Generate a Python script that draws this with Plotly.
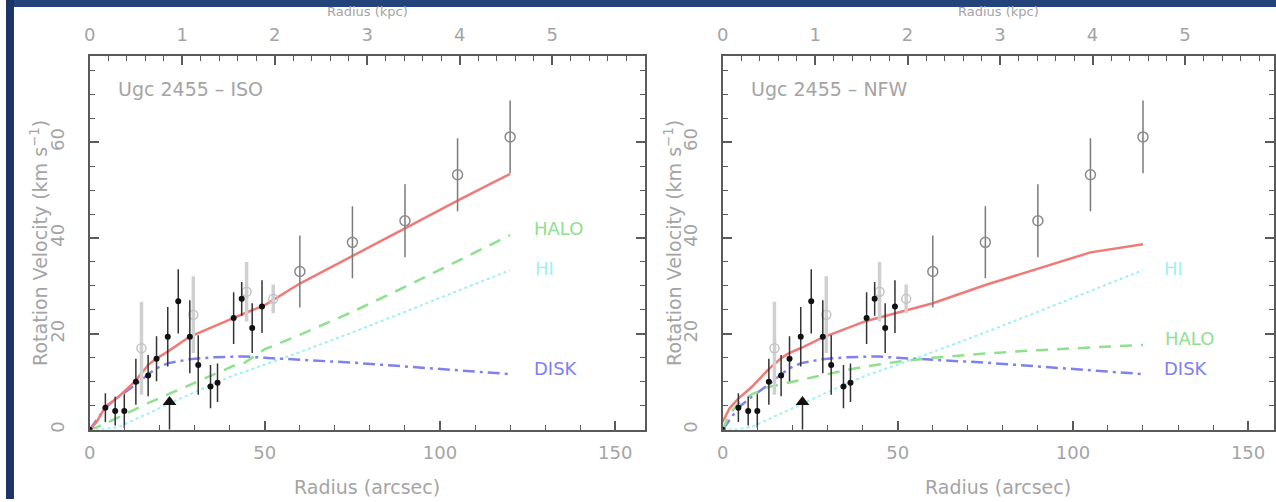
import plotly.graph_objects as go

# ---------------- data ----------------
# black (filled) points: radius [arcsec], velocity [km/s], error
r_black = [0.0, 4.5, 7.3, 9.9, 13.2, 16.7, 19.1, 22.3, 25.3, 28.6, 31.0, 34.5, 36.5, 41.1, 43.4, 46.4, 49.2]
v_black = [0.0, 4.6, 3.9, 3.9, 10.0, 11.3, 14.8, 19.4, 26.8, 19.4, 13.5, 9.0, 9.8, 23.3, 27.3, 21.2, 25.7]
e_black = [0.0, 3.0, 3.0, 3.5, 4.8, 4.3, 4.7, 6.2, 6.7, 7.6, 6.2, 4.5, 4.0, 5.4, 3.5, 5.2, 5.5]

# light grey open points (inner)
r_grey_in = [14.8, 29.6, 44.8, 52.4]
v_grey_in = [17.0, 24.0, 28.8, 27.3]
e_grey_in = [9.7, 8.0, 6.2, 3.0]

# grey open points (outer)
r_grey_out = [60.0, 75.0, 90.0, 105.0, 120.0]
v_grey_out = [33.0, 39.1, 43.6, 53.2, 61.1]
e_grey_out = [7.5, 7.5, 7.6, 7.6, 7.6]

# upper-limit triangle
r_tri = [22.8]
v_tri = [5.8]

# model curves
r_model = [0, 2, 4.5, 8.3, 13.1, 16.8, 19.0, 22.5, 28.5, 35, 41, 44.3, 50, 60, 75, 90, 105, 120]
iso_total = [0, 1.6, 4.8, 6.9, 10.2, 13.6, 14.8, 16.4, 19.4, 21.5, 23.3, 24.3, 26.0, 30.5, 36.2, 42.0, 47.8, 53.4]
iso_halo = [0, 0.5, 1.3, 2.7, 4.3, 5.6, 6.3, 7.4, 9.4, 11.5, 13.3, 14.0, 16.8, 19.8, 24.6, 29.8, 35.2, 40.6]
nfw_total = [1.6, 4.5, 6.5, 8.9, 12.6, 15.0, 16.0, 17.1, 19.2, 21.1, 22.7, 23.3, 24.4, 26.4, 30.2, 33.6, 37.0, 38.7]
nfw_halo = [0, 3.2, 5.5, 7.4, 8.9, 9.5, 9.9, 10.5, 11.5, 12.4, 13.2, 13.6, 14.2, 15.0, 15.9, 16.6, 17.2, 17.7]
disk = [0, 2.0, 4.6, 6.9, 9.4, 11.6, 12.8, 13.9, 14.7, 15.1, 15.3, 15.3, 15.0, 14.6, 14.0, 13.2, 12.4, 11.6]
hi = [0, 0, 0.1, 0.6, 2.2, 3.4, 4.1, 5.2, 7.3, 9.5, 11.3, 12.2, 13.6, 16.2, 20.3, 24.6, 29.0, 33.3]

x_ticks = [0, 50, 100, 150]
y_ticks = [0, 20, 40, 60]
kpc_ticks = [0, 1, 2, 3, 4, 5]
ARCSEC_PER_KPC = 26.4

labels_iso = [("HALO", 133.8, 42.0), ("HI", 129.8, 33.7), ("DISK", 133.0, 12.7)]
labels_nfw = [("HI", 128.8, 33.7), ("HALO", 133.3, 19.1), ("DISK", 132.4, 12.8)]

# ---------------- styling ----------------
W, H = 1276, 502
FONT = "DejaVu Sans"
TXT = "#a4a4a4"
FRAME = "#5a5a5a"
RED = "#f07a78"
GREEN = "#8fe08f"
CYAN = "#9ff0f0"
BLUE = "#8080ee"
DARK = "#22447a"

fig = go.Figure()

panels = [
    dict(x="x", xt="x3", y="y", total=iso_total, halo=iso_halo, labels=labels_iso, title="Ugc 2455 \u2013 ISO"),
    dict(x="x2", xt="x4", y="y2", total=nfw_total, halo=nfw_halo, labels=labels_nfw, title="Ugc 2455 \u2013 NFW"),
]

for p in panels:
    xa, ya = p["x"], p["y"]
    fig.add_trace(go.Scatter(x=r_model, y=hi, mode="lines", xaxis=xa, yaxis=ya,
                             line=dict(color=CYAN, width=2, dash="dot"), showlegend=False, hoverinfo="skip"))
    fig.add_trace(go.Scatter(x=r_model, y=disk, mode="lines", xaxis=xa, yaxis=ya,
                             line=dict(color=BLUE, width=2.5, dash="12px,5px,3px,5px"), showlegend=False, hoverinfo="skip"))
    fig.add_trace(go.Scatter(x=r_model, y=p["halo"], mode="lines", xaxis=xa, yaxis=ya,
                             line=dict(color=GREEN, width=2.5, dash="12px,9px"), showlegend=False, hoverinfo="skip"))
    fig.add_trace(go.Scatter(x=r_model, y=p["total"], mode="lines", xaxis=xa, yaxis=ya,
                             line=dict(color=RED, width=2.5), showlegend=False, hoverinfo="skip"))
    fig.add_trace(go.Scatter(x=r_grey_in, y=v_grey_in, mode="markers", xaxis=xa, yaxis=ya,
                             marker=dict(symbol="circle-open", size=9, color="#c4c4c4", line=dict(width=1.5)),
                             error_y=dict(type="data", array=e_grey_in, color="#d0d0d0", thickness=3.5, width=0),
                             showlegend=False))
    fig.add_trace(go.Scatter(x=r_grey_out, y=v_grey_out, mode="markers", xaxis=xa, yaxis=ya,
                             marker=dict(symbol="circle-open", size=10, color="#8a8a8a", line=dict(width=1.5)),
                             error_y=dict(type="data", array=e_grey_out, color="#7a7a7a", thickness=1.5, width=0),
                             showlegend=False))
    fig.add_trace(go.Scatter(x=r_black, y=v_black, mode="markers", xaxis=xa, yaxis=ya,
                             marker=dict(symbol="circle", size=6, color="#111111"),
                             error_y=dict(type="data", array=e_black, color="#333333", thickness=1.5, width=0),
                             showlegend=False))
    fig.add_trace(go.Scatter(x=r_tri, y=v_tri, mode="markers", xaxis=xa, yaxis=ya,
                             marker=dict(symbol="triangle-up", size=12, color="#111111"),
                             error_y=dict(type="data", symmetric=False, array=[0], arrayminus=v_tri,
                                          color="#333333", thickness=1.5, width=0),
                             showlegend=False))
    # dummy trace so the top (kpc) axis is drawn
    fig.add_trace(go.Scatter(x=[0], y=[0], xaxis=p["xt"], yaxis=ya, mode="markers",
                             marker=dict(opacity=0), showlegend=False, hoverinfo="skip"))
    for (t, lx, ly) in p["labels"]:
        col = {"HALO": GREEN, "HI": CYAN, "DISK": BLUE}[t]
        fig.add_annotation(x=lx, y=ly, xref=xa, yref=ya, text=t, showarrow=False,
                           xanchor="center", yanchor="middle",
                           font=dict(family=FONT, size=18, color=col))
    fig.add_annotation(x=7.4, y=71, xref=xa, yref=ya, text=p["title"], showarrow=False,
                       xanchor="left", yanchor="middle",
                       font=dict(family=FONT, size=19, color=TXT))

x_dom = [[84 / W, 641.7 / W], [720 / W, 1274 / W]]
y_dom = [69.7 / H, 445.3 / H]
x_rng = [[0, 158.4], [0, 157.4]]

common_x = dict(showline=True, linecolor=FRAME, linewidth=2, ticks="inside", ticklen=9, tickwidth=1.5,
                tickcolor=FRAME, showgrid=False, zeroline=False,
                tickfont=dict(family=FONT, size=18, color=TXT))

for i in range(2):
    ax = "xaxis" if i == 0 else "xaxis2"
    yname = "y" if i == 0 else "y2"
    fig.update_layout({
        ax: dict(common_x, domain=x_dom[i], range=x_rng[i], anchor=yname, tickvals=x_ticks,
                 ticklabelstandoff=6,
                 minor=dict(dtick=10, ticklen=5, ticks="inside", tickcolor=FRAME, tickwidth=1.2)),
    })
    top = "xaxis3" if i == 0 else "xaxis4"
    fig.update_layout({
        top: dict(common_x, domain=x_dom[i], range=[x_rng[i][0] / ARCSEC_PER_KPC, x_rng[i][1] / ARCSEC_PER_KPC],
                  overlaying="x" if i == 0 else "x2", side="top", anchor=yname, tickvals=kpc_ticks,
                  ticklabelstandoff=6,
                  minor=dict(dtick=0.2, ticklen=5, ticks="inside", tickcolor=FRAME, tickwidth=1.2)),
    })
    yax = "yaxis" if i == 0 else "yaxis2"
    fig.update_layout({
        yax: dict(domain=y_dom, range=[0, 77.9], anchor="x" if i == 0 else "x2",
                  showline=True, linecolor=FRAME, linewidth=2, mirror="ticks",
                  ticks="inside", ticklen=9, tickwidth=1.5, tickcolor=FRAME,
                  tickvals=y_ticks, tickangle=-90, ticklabelstandoff=16,
                  minor=dict(dtick=5, ticklen=5, ticks="inside", tickcolor=FRAME, tickwidth=1.2),
                  showgrid=False, zeroline=False,
                  tickfont=dict(family=FONT, size=18, color=TXT)),
    })
    cx = (x_dom[i][0] + x_dom[i][1]) / 2
    fig.add_annotation(x=cx, y=(H - 490) / H, xref="paper", yref="paper", text="Radius (arcsec)",
                       showarrow=False, xanchor="center", yanchor="middle",
                       font=dict(family=FONT, size=19, color=TXT))
    fig.add_annotation(x=cx, y=(H - 12) / H, xref="paper", yref="paper", text="Radius (kpc)",
                       showarrow=False, xanchor="center", yanchor="middle",
                       font=dict(family=FONT, size=13, color=TXT))
    ytx = 33 / W if i == 0 else 670 / W
    fig.add_annotation(x=ytx, y=(H - 244.5) / H, xref="paper", yref="paper",
                       text="Rotation Velocity (km s<sup>\u22121</sup>)", textangle=-90,
                       showarrow=False, xanchor="center", yanchor="middle",
                       font=dict(family=FONT, size=19, color=TXT))

# dark slide background strips (top and left)
fig.add_shape(type="rect", xref="paper", yref="paper", x0=0, x1=1, y0=(H - 7) / H, y1=1,
              fillcolor=DARK, line=dict(width=0), layer="below")
fig.add_shape(type="rect", xref="paper", yref="paper", x0=0, x1=8 / W, y0=0, y1=1,
              fillcolor="#1c3466", line=dict(width=0), layer="below")

fig.update_layout(width=W, height=H, margin=dict(l=0, r=0, t=0, b=0, pad=0),
                  paper_bgcolor="white", plot_bgcolor="white", showlegend=False)

fig.write_html("out.html")
